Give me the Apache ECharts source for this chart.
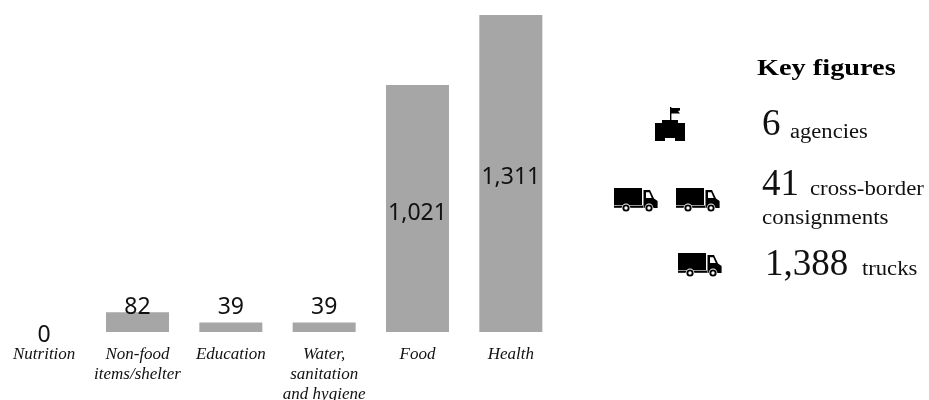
<!DOCTYPE html>
<html><head><meta charset="utf-8">
<style>html,body{margin:0;padding:0;background:#fff}#c{width:929px;height:400px}</style>
<script src="https://cdn.jsdelivr.net/npm/echarts@6/dist/echarts.min.js"></script>
</head><body><div id="c"></div>
<script>
const categories = ['Nutrition','Non-food\nitems/shelter','Education','Water,\nsanitation\nand hygiene','Food','Health'];
const values = [0,82,39,39,1021,1311];
const keyFigureNumbers = ['6','41','1,388'];
const keyFigureUnits = ['agencies','cross-border','trucks'];
const keyFigureExtra = 'consignments';
const labelNudge = [2,-6,-17,-17,5,4];
const SERIF = '"Liberation Serif"';

function poly(points,fill){return {type:'polygon',shape:{points},style:{fill:fill||'#000'}};}
function truck(x,y){
  const wheel = cx => [
    {type:'circle',shape:{cx,cy:20,r:4.4},style:{fill:'#fff'}},
    {type:'circle',shape:{cx,cy:20,r:3.6},style:{fill:'#000'}},
    {type:'circle',shape:{cx,cy:20,r:1.7},style:{fill:'#fff'}}
  ];
  return {type:'group',x,y,children:[
    {type:'rect',shape:{x:0,y:0,width:28,height:17},style:{fill:'#000'}},
    {type:'rect',shape:{x:0,y:17,width:29,height:1},style:{fill:'#999'}},
    {type:'rect',shape:{x:0,y:18,width:29,height:1.8},style:{fill:'#000'}},
    poly([[29.5,2],[36,2],[40,10.5],[43.6,13],[43.6,20],[29.5,20]]),
    poly([[32,4.2],[35.2,4.2],[37.8,10],[32,10]],'#fff'),
    ...wheel(12),...wheel(35)
  ]};
}
function castle(x,y){
  return {type:'group',x,y,children:[
    {type:'rect',shape:{x:15,y:0,width:1.4,height:13},style:{fill:'#000'}},
    poly([[16,1],[25,1],[25,3.5],[23,4],[25,6.5],[16,6.5]]),
    poly([[0,34],[0,16],[7,16],[7,13],[23,13],[23,16],[30,16],[30,34],[20,34],[20,31],[10,31],[10,34]])
  ]};
}
function txt(text,x,y,size,sx,extra){
  return {type:'text',x,y,scaleX:sx||1,style:Object.assign({text,fill:'#111',textAlign:'left',textVerticalAlign:'middle',font:size+'px '+SERIF},extra||{})};
}
const option = {
  animation:false,
  backgroundColor:'#fff',
  grid:{left:-2.5,top:15,width:560,height:317,outerBoundsMode:'none'},
  xAxis:{type:'category',data:categories,axisLine:{show:false},axisTick:{show:false},
    axisLabel:{interval:0,margin:13,fontFamily:SERIF,fontStyle:'italic',fontSize:17,lineHeight:20,color:'#111',verticalAlign:'top'}},
  yAxis:{type:'value',min:0,max:1311,show:false,splitLine:{show:false}},
  series:[{type:'bar',barWidth:63,itemStyle:{color:'#a6a6a6'},
    data:values.map((v,i)=>({value:v,label:{
      show:true,position:v>500?'inside':'top',distance:0,offset:v>500?[0,labelNudge[i]]:[0,labelNudge[i]+13],
      formatter:p=>p.value.toLocaleString('en-US'),
      fontFamily:'"Noto Sans"',fontSize:23,color:'#111'}}))}],
  graphic:[
    txt('Key figures',757,69,24,1.18,{font:'bold 24px '+SERIF,fill:'#000'}),
    castle(655,107),
    truck(614,188),truck(676,188),truck(678,253),
    txt(keyFigureNumbers[0],762,125,37),
    txt(keyFigureUnits[0],790,133,20,1.13),
    txt(keyFigureNumbers[1],762,185,37),
    txt(keyFigureUnits[1],810,190,20,1.14),
    txt(keyFigureExtra,762,219,20,1.15),
    txt(keyFigureNumbers[2],765,265,37),
    txt(keyFigureUnits[2],862,270,20,1.13)
  ]
};
echarts.init(document.getElementById('c')).setOption(option);
</script></body></html>
